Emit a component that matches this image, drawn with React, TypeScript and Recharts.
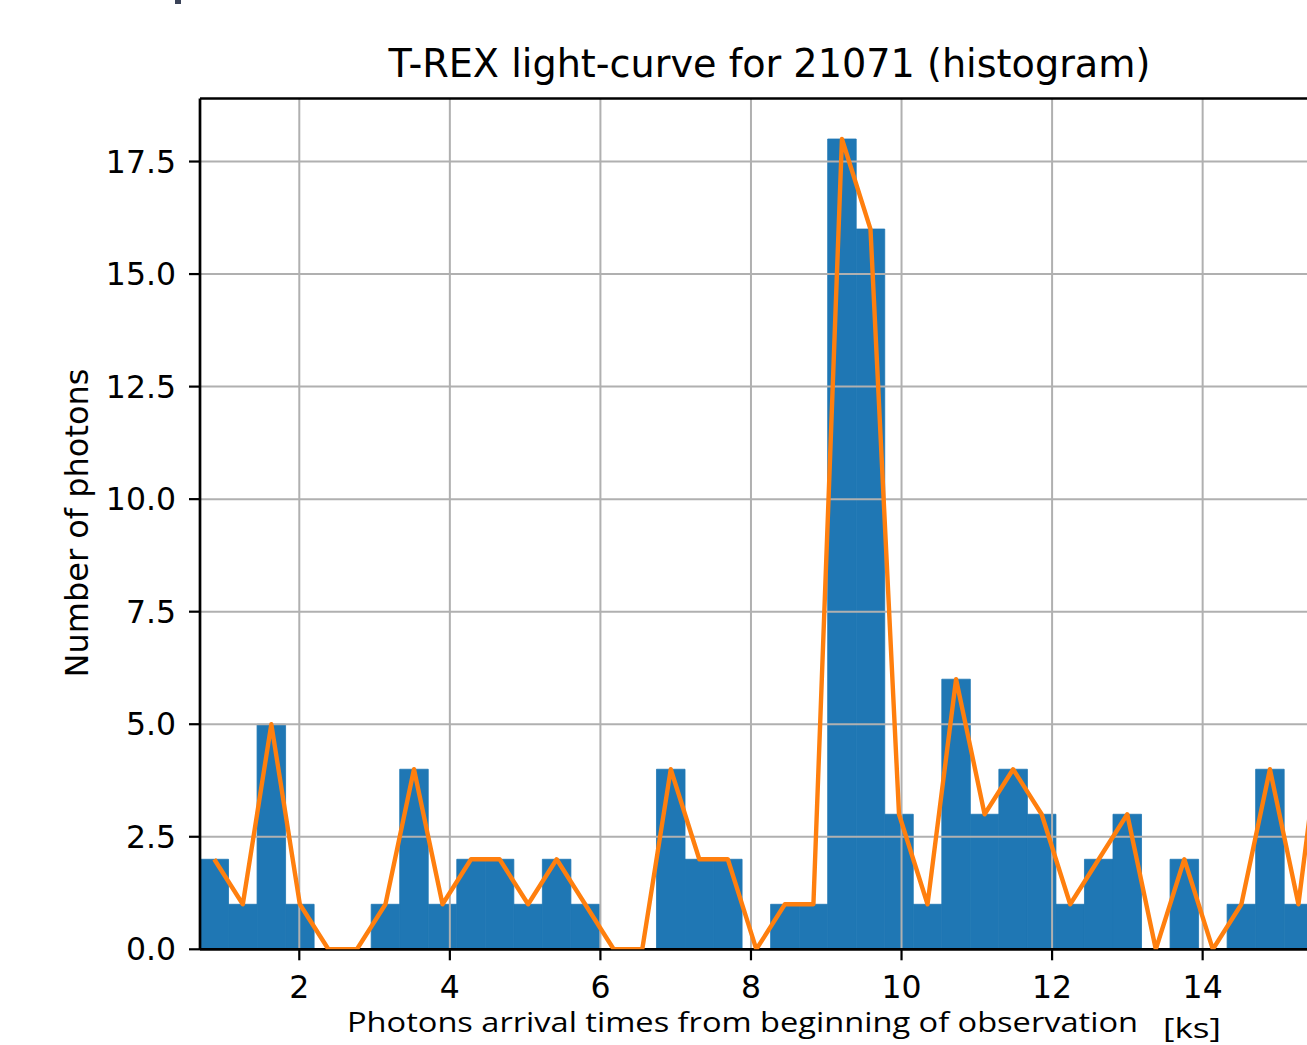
import { ComposedChart, Bar, Line, XAxis, YAxis, CartesianGrid, ReferenceLine } from 'recharts';

// histogram bins (ks)
const binStart = 0.681;
const binWidth = 0.379;
const counts = [
  2, 1, 5, 1, 0, 0, 1, 4, 1, 2, 2, 1, 2, 1, 0, 0, 4, 2, 2, 0,
  1, 1, 18, 16, 3, 1, 6, 3, 4, 3, 1, 2, 3, 0, 2, 0, 1, 4, 1, 6,
];
const xTicks = [2, 4, 6, 8, 10, 12, 14];
const yTicks = [0, 2.5, 5, 7.5, 10, 12.5, 15, 17.5];
const yGrid = [2.5, 5, 7.5, 10, 12.5, 15, 17.5];

const title = 'T-REX light-curve for 21071 (histogram)';
const xLabel = 'Photons arrival times from beginning of observation';
const xUnit = '[ks]';
const yLabel = 'Number of photons';

const X_DOMAIN = [0.681, 15.8245];
const Y_DOMAIN = [0, 18.9];
const W = 1340;
const H = 1045;
// plot area when axes are hidden
const PLOT_MARGIN = { top: 98.5, right: 0, bottom: 95.7, left: 200 };
const tickFont = { fontFamily: 'DejaVu Sans', fontSize: 31.5, fill: '#000' };

const layer: React.CSSProperties = { position: 'absolute', left: 0, top: 0 };

export default function App() {
  const data = counts.map((n, i) => ({ t: binStart + (i + 0.5) * binWidth, n }));

  return (
    <div style={{ position: 'absolute', left: 0, top: 0, width: 1307, height: H, overflow: 'hidden', background: '#fff' }}>
      <div style={{ position: 'absolute', left: 175, top: 0, width: 6, height: 4, background: '#3a4358' }} />

      {/* bars */}
      <div style={layer}>
        <ComposedChart width={W} height={H} data={data} margin={PLOT_MARGIN} barCategoryGap={0} barGap={0}>
          <XAxis dataKey="t" type="number" domain={X_DOMAIN} allowDataOverflow ticks={xTicks} hide />
          <YAxis type="number" domain={Y_DOMAIN} allowDataOverflow ticks={yTicks} hide />
          <Bar dataKey="n" fill="#1f77b4" stroke="#1f77b4" strokeWidth={0.8} barSize={28.53} isAnimationActive={false} />
        </ComposedChart>
      </div>

      {/* grid and axes above the bars */}
      <div style={layer}>
        <ComposedChart width={W} height={H} data={data} margin={{ top: 98.5, right: 0, bottom: 0, left: 0 }}>
          <CartesianGrid stroke="#b0b0b0" strokeWidth={2} horizontalValues={yGrid} verticalValues={xTicks} />
          <XAxis
            dataKey="t"
            type="number"
            domain={X_DOMAIN}
            allowDataOverflow
            ticks={xTicks}
            height={95.7}
            tickSize={11}
            tickMargin={15}
            tick={tickFont}
            axisLine={{ stroke: '#000', strokeWidth: 2.7 }}
            tickLine={{ stroke: '#000', strokeWidth: 2.2 }}
          />
          <YAxis
            type="number"
            domain={Y_DOMAIN}
            allowDataOverflow
            ticks={yTicks}
            width={200}
            tickSize={11}
            tickMargin={13}
            tick={tickFont}
            tickFormatter={(v: number) => v.toFixed(1)}
            axisLine={{ stroke: '#000', strokeWidth: 2.7 }}
            tickLine={{ stroke: '#000', strokeWidth: 2.2 }}
          />
          <ReferenceLine y={18.9} stroke="#000" strokeWidth={2.7} />
        </ComposedChart>
      </div>

      {/* line on top */}
      <div style={layer}>
        <ComposedChart width={W} height={H} data={data} margin={PLOT_MARGIN}>
          <XAxis dataKey="t" type="number" domain={X_DOMAIN} allowDataOverflow ticks={xTicks} hide />
          <YAxis type="number" domain={Y_DOMAIN} allowDataOverflow ticks={yTicks} hide />
          <Line
            dataKey="n"
            type="linear"
            stroke="#ff7f0e"
            strokeWidth={4.4}
            strokeLinejoin="round"
            dot={false}
            activeDot={false}
            isAnimationActive={false}
          />
        </ComposedChart>
      </div>

      <svg width={1307} height={H} style={{ position: 'absolute', left: 0, top: 0, pointerEvents: 'none' }}>
        <text x={769.5} y={76.7} textAnchor="middle" fontFamily="DejaVu Sans" fontSize={38.2} fill="#000">
          {title}
        </text>
        <text
          transform="translate(87.5, 523) rotate(-90)"
          textAnchor="middle"
          fontFamily="DejaVu Sans"
          fontSize={32}
          fill="#000"
        >
          {yLabel}
        </text>
        <text x={347} y={1032} fontFamily="Open Sans" fontSize={27.5} fill="#000" textLength={791} lengthAdjust="spacingAndGlyphs">
          {xLabel}
        </text>
        <text x={1163} y={1038} fontFamily="Open Sans" fontSize={28} fill="#000" textLength={58} lengthAdjust="spacingAndGlyphs">
          {xUnit}
        </text>
      </svg>
    </div>
  );
}
